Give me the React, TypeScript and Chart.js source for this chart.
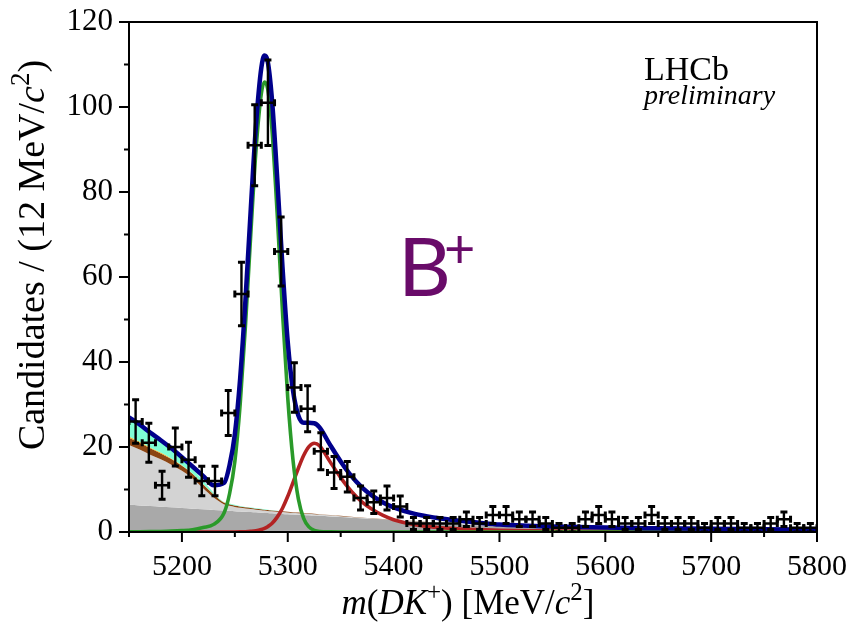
import React, { useEffect, useRef } from 'react';
import { Chart, registerables } from 'chart.js';

Chart.register(...registerables);

// ---------- data points (12.5 MeV bins) ----------
const binCenters = [
  5156.25, 5168.75, 5181.25, 5193.75, 5206.25, 5218.75, 5231.25, 5243.75, 5256.25, 5268.75,
  5281.25, 5293.75, 5306.25, 5318.75, 5331.25, 5343.75, 5356.25, 5368.75, 5381.25, 5393.75,
  5406.25, 5418.75, 5431.25, 5443.75, 5456.25, 5468.75, 5481.25, 5493.75, 5506.25, 5518.75,
  5531.25, 5543.75, 5556.25, 5568.75, 5581.25, 5593.75, 5606.25, 5618.75, 5631.25, 5643.75,
  5656.25, 5668.75, 5681.25, 5693.75, 5706.25, 5718.75, 5731.25, 5743.75, 5756.25, 5768.75,
  5781.25, 5793.75,
];
const counts = [
  26, 21, 11, 20, 17, 12, 12, 28, 56, 91,
  101, 66, 34, 29, 19, 14, 13, 8, 7, 8,
  6, 2, 2, 2, 2, 3, 2, 4, 4, 3,
  3, 2, 1, 1, 3, 4, 3, 2, 2, 4,
  2, 2, 2, 1, 2, 2, 1, 1, 2, 3,
  1, 1,
];
const countErrors = [
  5.1, 4.58, 3.32, 4.47, 4.12, 3.46, 3.46, 5.29, 7.48, 9.54,
  10.05, 8.12, 5.83, 5.39, 4.36, 3.74, 3.61, 2.83, 2.65, 2.83,
  2.45, 1.41, 1.41, 1.41, 1.41, 1.73, 1.41, 2, 2, 1.73,
  1.73, 1.41, 1, 1, 1.73, 2, 1.73, 1.41, 1.41, 2,
  1.41, 1.41, 1.41, 1, 1.41, 1.41, 1, 1, 1.41, 1.73,
  1, 1,
];
const binHalfWidth = 6.25;

// ---------- fit curves ----------
const curveX = [
  5150, 5160, 5170, 5180, 5190, 5200, 5210, 5220, 5230, 5240,
  5245, 5250, 5255, 5260, 5265, 5270, 5275, 5278, 5281, 5285,
  5290, 5295, 5300, 5305, 5310, 5315, 5320, 5325, 5330, 5340,
  5350, 5360, 5370, 5380, 5390, 5400, 5420, 5440, 5460, 5480,
  5500, 5550, 5600, 5650, 5700, 5750, 5800,
];
const totalFit = [
  27.0, 25.3, 23.4, 21.6, 19.7, 17.6, 15.4, 13.2, 11.0, 11.6,
  15.7, 23.0, 36.1, 54.5, 75.8, 95.8, 109.2, 112.1, 110.8, 102.0,
  83.4, 62.4, 44.65, 33.2, 27.4, 25.7, 25.7, 25.6, 24.6, 20.5,
  16.6, 13.2, 10.5, 8.5, 6.95, 5.8, 4.25, 3.35, 2.7, 2.2,
  1.75, 1.3, 1.03, 0.88, 0.76, 0.66, 0.57,
];
const signalDK = [
  0.04, 0.06, 0.09, 0.13, 0.2, 0.33, 0.55, 1.05, 1.8, 4.6,
  9.0, 16.6, 30.0, 48.5, 69.9, 89.9, 103.1, 105.9, 104.3, 94.9,
  74.9, 51.9, 31.5, 16.8, 7.8, 3.2, 1.2, 0.4, 0.12, 0.02,
  0, 0, 0, 0, 0, 0, 0, 0, 0, 0,
  0, 0, 0, 0, 0, 0, 0,
];
const misIdDpi = [
  0, 0, 0, 0, 0, 0, 0, 0, 0, 0,
  0, 0, 0.02, 0.06, 0.15, 0.3, 0.6, 0.85, 1.25, 2.0,
  3.5, 5.6, 8.4, 11.7, 15.0, 18.0, 20.1, 20.9, 20.3, 16.5,
  12.8, 9.6, 7.1, 5.3, 3.9, 2.9, 1.7, 1.1, 0.75, 0.55,
  0.42, 0.24, 0.14, 0.09, 0.06, 0.04, 0.03,
];
// stacked background components (cumulative tops)
const stackCyan = [
  26.96, 25.24, 23.31, 21.47, 19.5, 17.27, 14.85, 12.15, 9.2, 7.0,
  6.7, 6.4, 6.1, 5.9, 5.75, 5.6, 5.45, 5.35, 5.25, 5.13,
  5.0, 4.88, 4.75, 4.66, 4.57, 4.48, 4.4, 4.31, 4.2, 4.0,
  3.8, 3.6, 3.4, 3.22, 3.04, 2.88, 2.56, 2.25, 1.94, 1.64,
  1.34, 1.04, 0.89, 0.79, 0.7, 0.62, 0.54,
];
const stackYellow = [
  22.46, 21.25, 19.9, 18.7, 17.3, 15.7, 13.75, 11.28, 8.9, 6.92,
  6.55, 6.25, 6.0, 5.8, 5.65, 5.5, 5.34, 5.25, 5.17, 5.08,
  4.96, 4.86, 4.75, 4.66, 4.57, 4.48, 4.4, 4.31, 4.2, 4.0,
  3.8, 3.6, 3.4, 3.22, 3.04, 2.88, 2.56, 2.25, 1.94, 1.64,
  1.34, 1.04, 0.89, 0.79, 0.7, 0.62, 0.54,
];
const stackBrown = [
  22.16, 21.0, 19.7, 18.5, 17.15, 15.6, 13.7, 11.25, 8.85, 6.9,
  6.55, 6.25, 6.0, 5.8, 5.65, 5.5, 5.34, 5.25, 5.17, 5.08,
  4.96, 4.86, 4.75, 4.66, 4.57, 4.48, 4.4, 4.31, 4.2, 4.0,
  3.8, 3.6, 3.4, 3.22, 3.04, 2.88, 2.56, 2.25, 1.94, 1.64,
  1.34, 1.04, 0.89, 0.79, 0.7, 0.62, 0.54,
];
const stackLight = [
  20.46, 19.4, 18.2, 17.1, 15.85, 14.4, 12.6, 10.3, 8.1, 6.5,
  6.15, 5.9, 5.7, 5.55, 5.4, 5.25, 5.12, 5.04, 4.97, 4.88,
  4.78, 4.69, 4.6, 4.52, 4.44, 4.36, 4.28, 4.2, 4.1, 3.92,
  3.73, 3.55, 3.37, 3.2, 3.02, 2.86, 2.54, 2.23, 1.92, 1.62,
  1.32, 1.02, 0.87, 0.77, 0.68, 0.6, 0.52,
];
const stackDark = [
  6.4, 6.25, 6.1, 5.95, 5.8, 5.65, 5.5, 5.35, 5.2, 5.05,
  4.98, 4.9, 4.83, 4.76, 4.69, 4.62, 4.55, 4.5, 4.46, 4.4,
  4.33, 4.26, 4.2, 4.13, 4.06, 4.0, 3.93, 3.86, 3.8, 3.66,
  3.52, 3.38, 3.24, 3.1, 2.95, 2.8, 2.5, 2.2, 1.9, 1.6,
  1.3, 1.0, 0.85, 0.75, 0.66, 0.58, 0.5,
];

// ---------- ticks ----------
const xMajorTicks = [5200, 5300, 5400, 5500, 5600, 5700, 5800];
const xMinorTicks = [5150, 5250, 5350, 5450, 5550, 5650, 5750];
const yMajorTicks = [0, 20, 40, 60, 80, 100, 120];
const yMinorTicks = [10, 30, 50, 70, 90, 110];

const SERIF = '"Liberation Serif", "Times New Roman", serif';

type Seg = { t: string; it?: boolean; sup?: boolean };

function segFont(s: Seg, size: number) {
  const sz = s.sup ? Math.round(size * 0.7) : size;
  return `${s.it ? 'italic ' : ''}${sz}px ${SERIF}`;
}
function richWidth(ctx: CanvasRenderingContext2D, segs: Seg[], size: number) {
  let w = 0;
  for (const s of segs) {
    ctx.font = segFont(s, size);
    w += ctx.measureText(s.t).width;
  }
  return w;
}
function drawRich(ctx: CanvasRenderingContext2D, segs: Seg[], size: number, x: number, y: number) {
  let cx = x;
  for (const s of segs) {
    ctx.font = segFont(s, size);
    ctx.fillText(s.t, cx, s.sup ? y - size * 0.4 : y);
    cx += ctx.measureText(s.t).width;
  }
}

const xTitle: Seg[] = [
  { t: 'm', it: true }, { t: '(' }, { t: 'DK', it: true }, { t: '+', sup: true },
  { t: ') [MeV/' }, { t: 'c', it: true }, { t: '2', sup: true }, { t: ']' },
];
const yTitle: Seg[] = [
  { t: 'Candidates / (12 MeV/' }, { t: 'c', it: true }, { t: '2', sup: true }, { t: ')' },
];

const decorPlugin = {
  id: 'decor',
  afterDatasetsDraw(chart: any) {
    const ctx: CanvasRenderingContext2D = chart.ctx;
    const xs = chart.scales.x;
    const ys = chart.scales.y;
    const a = chart.chartArea;
    ctx.save();
    ctx.beginPath();
    ctx.rect(a.left, a.top, a.right - a.left, a.bottom - a.top);
    ctx.clip();
    ctx.strokeStyle = '#000';
    for (let i = 0; i < binCenters.length; i++) {
      const cx = xs.getPixelForValue(binCenters[i]);
      const cy = ys.getPixelForValue(counts[i]);
      const x0 = xs.getPixelForValue(binCenters[i] - binHalfWidth);
      const x1 = xs.getPixelForValue(binCenters[i] + binHalfWidth);
      const yLo = ys.getPixelForValue(counts[i] - countErrors[i]);
      const yHi = ys.getPixelForValue(counts[i] + countErrors[i]);
      ctx.lineWidth = 2.4;
      ctx.beginPath();
      ctx.moveTo(cx, yLo);
      ctx.lineTo(cx, yHi);
      ctx.moveTo(x0, cy);
      ctx.lineTo(x1, cy);
      ctx.stroke();
      ctx.lineWidth = 3;
      ctx.beginPath();
      ctx.moveTo(cx - 3.5, yLo);
      ctx.lineTo(cx + 3.5, yLo);
      ctx.moveTo(cx - 3.5, yHi);
      ctx.lineTo(cx + 3.5, yHi);
      ctx.moveTo(x0, cy - 3.5);
      ctx.lineTo(x0, cy + 3.5);
      ctx.moveTo(x1, cy - 3.5);
      ctx.lineTo(x1, cy + 3.5);
      ctx.stroke();
    }
    ctx.restore();
  },
  afterDraw(chart: any) {
    const ctx: CanvasRenderingContext2D = chart.ctx;
    const xs = chart.scales.x;
    const ys = chart.scales.y;
    const a = chart.chartArea;
    ctx.save();
    // frame
    ctx.strokeStyle = '#000';
    ctx.lineWidth = 2;
    ctx.strokeRect(a.left, a.top, a.right - a.left, a.bottom - a.top);
    // ticks (outward)
    ctx.lineWidth = 2;
    ctx.beginPath();
    for (const v of xMajorTicks) {
      const p = xs.getPixelForValue(v);
      ctx.moveTo(p, a.bottom);
      ctx.lineTo(p, a.bottom + 10);
    }
    for (const v of xMinorTicks) {
      const p = xs.getPixelForValue(v);
      ctx.moveTo(p, a.bottom);
      ctx.lineTo(p, a.bottom + 5);
    }
    for (const v of yMajorTicks) {
      const p = ys.getPixelForValue(v);
      ctx.moveTo(a.left, p);
      ctx.lineTo(a.left - 10, p);
    }
    for (const v of yMinorTicks) {
      const p = ys.getPixelForValue(v);
      ctx.moveTo(a.left, p);
      ctx.lineTo(a.left - 5, p);
    }
    ctx.stroke();

    ctx.fillStyle = '#000';
    ctx.textBaseline = 'alphabetic';
    ctx.textAlign = 'left';
    // x title
    const xsz = 35;
    const wx = richWidth(ctx, xTitle, xsz);
    drawRich(ctx, xTitle, xsz, 468 - wx / 2, 614);
    // y title
    const ysz = 38;
    const wy = richWidth(ctx, yTitle, ysz);
    ctx.save();
    ctx.translate(44, 255);
    ctx.rotate(-Math.PI / 2);
    drawRich(ctx, yTitle, ysz, -wy / 2, 0);
    ctx.restore();

    // LHCb preliminary
    ctx.font = `34px ${SERIF}`;
    ctx.fillText('LHCb', 644, 80);
    ctx.font = `italic 28px ${SERIF}`;
    ctx.fillText('preliminary', 644, 104);

    // B+
    ctx.fillStyle = '#690b69';
    ctx.font = '82px Lato, "Open Sans", sans-serif';
    ctx.fillText('B', 398, 296);
    ctx.font = '54px Lato, "Open Sans", sans-serif';
    ctx.fillText('+', 444, 268);
    ctx.restore();
  },
};

export default function App() {
  const canvasRef = useRef<HTMLCanvasElement>(null);

  useEffect(() => {
    const canvas = canvasRef.current!;
    const pts = (ys: number[]) => curveX.map((x, i) => ({ x, y: ys[i] }));
    const band = (label: string, ys: number[], color: string, fill: any) => ({
      label,
      data: pts(ys),
      borderColor: 'transparent',
      borderWidth: 0,
      backgroundColor: color,
      pointRadius: 0,
      fill,
      cubicInterpolationMode: 'monotone' as const,
    });
    const line = (label: string, ys: number[], color: string, w: number) => ({
      label,
      data: pts(ys),
      borderColor: color,
      borderWidth: w,
      pointRadius: 0,
      fill: false,
      cubicInterpolationMode: 'monotone' as const,
    });

    const chart = new Chart(canvas, {
      type: 'line',
      data: {
        datasets: [
          line('Total fit', totalFit, '#00008b', 4.5),
          line('Signal', signalDK, '#2a9a2a', 3.6),
          line('B→Dπ', misIdDpi, '#b22222', 3.6),
          band('cyan', stackCyan, '#7fffd4', '+1'),
          band('yellow', stackYellow, '#f0b020', '+1'),
          band('brown', stackBrown, '#8b4513', '+1'),
          band('light', stackLight, '#d3d3d3', '+1'),
          band('dark', stackDark, '#a9a9a9', 'origin'),
        ] as any,
      },
      options: {
        responsive: false,
        animation: false,
        devicePixelRatio: 1,
        layout: { padding: { left: 0, right: 32, top: 22, bottom: 0 } },
        plugins: {
          legend: { display: false },
          tooltip: { enabled: false },
          filler: { propagate: false },
        },
        scales: {
          x: {
            type: 'linear',
            min: 5150,
            max: 5800,
            afterBuildTicks: (s: any) => {
              s.ticks = xMajorTicks.map((v) => ({ value: v }));
            },
            afterFit: (s: any) => {
              s.height = 97;
              s.paddingLeft = 0;
              s.paddingRight = 0;
            },
            ticks: {
              font: { family: SERIF, size: 30 },
              color: '#000',
              padding: 17,
              maxRotation: 0,
              autoSkip: false,
              callback: (v: any) => String(v),
            },
            grid: { display: false, drawTicks: false },
            border: { display: false },
          },
          y: {
            type: 'linear',
            min: 0,
            max: 120,
            afterBuildTicks: (s: any) => {
              s.ticks = yMajorTicks.map((v) => ({ value: v }));
            },
            afterFit: (s: any) => {
              s.width = 129;
              s.paddingTop = 0;
              s.paddingBottom = 0;
            },
            ticks: {
              font: { family: SERIF, size: 31 },
              color: '#000',
              padding: 16,
              autoSkip: false,
              callback: (v: any) => String(v),
            },
            grid: { display: false, drawTicks: false },
            border: { display: false },
          },
        },
      } as any,
      plugins: [decorPlugin],
    });
    return () => chart.destroy();
  }, []);

  return (
    <div style={{ position: 'absolute', left: 0, top: 0, width: 849, height: 629, background: '#fff' }}>
      <canvas ref={canvasRef} width={849} height={629} style={{ display: 'block', width: 849, height: 629 }} />
    </div>
  );
}
